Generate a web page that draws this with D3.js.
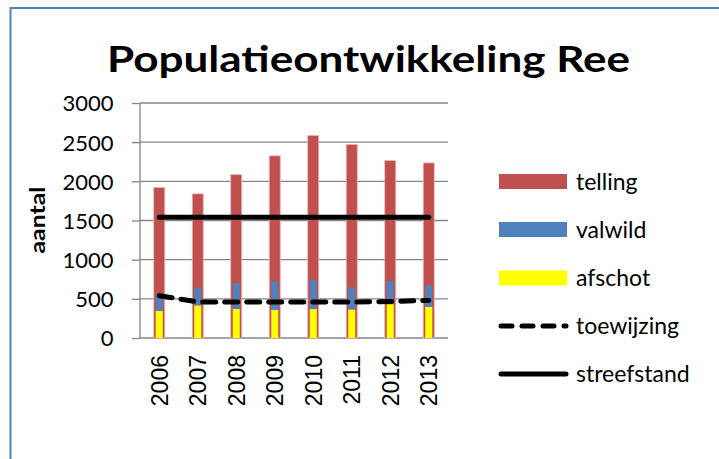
<!DOCTYPE html>
<html>
<head>
<meta charset="utf-8">
<script src="https://cdn.jsdelivr.net/npm/d3@7"></script>
<style>
  body { margin: 0; background: #fff; }
  svg { display: block; }
  .tick text { font-family: Lato, "Open Sans", sans-serif; font-size: 22px; fill: #000; }
</style>
</head>
<body>
<svg id="chart"></svg>
<script>
// data
var years = ["2006", "2007", "2008", "2009", "2010", "2011", "2012", "2013"];
var telling = [1920, 1840, 2085, 2325, 2585, 2470, 2265, 2235];
var afschot = [345, 414, 370, 358, 370, 362, 430, 396];
var valwild = [222, 229, 332, 366, 371, 285, 298, 273];
var toewijzing = [540, 460, 460, 460, 460, 460, 465, 480];
var streefstand = [1540, 1540, 1540, 1540, 1540, 1540, 1540, 1540];
var yTicks = [0, 500, 1000, 1500, 2000, 2500, 3000];
var legendNames = ["telling", "valwild", "afschot", "toewijzing", "streefstand"];

var W = 719, H = 459;
var plot = { left: 140, right: 448, top: 103, bottom: 338 };

var svg = d3.select("#chart").attr("width", W).attr("height", H);

// outer frame (runs off right and bottom edge)
svg.append("path")
  .attr("d", "M" + 10.5 + "," + (H + 5) + " L10.5,8 L" + (W + 5) + ",8")
  .attr("fill", "none")
  .attr("stroke", "#4f81bd")
  .attr("stroke-width", 2);

// title
svg.append("text")
  .attr("x", 107).attr("y", 72)
  .attr("textLength", 523)
  .attr("lengthAdjust", "spacingAndGlyphs")
  .style("font-family", "Lato, 'Open Sans', sans-serif")
  .style("font-weight", "bold")
  .style("font-size", "36px")
  .text("Populatieontwikkeling Ree");

// scales
var x = d3.scaleBand().domain(years).range([plot.left, plot.right]);
var y = d3.scaleLinear().domain([0, 3000]).range([plot.bottom, plot.top]);

// gridlines
svg.append("g").selectAll("line")
  .data(yTicks)
  .enter().append("line")
  .attr("x1", plot.left).attr("x2", plot.right)
  .attr("y1", function(d) { return y(d); })
  .attr("y2", function(d) { return y(d); })
  .attr("stroke", "#868686")
  .attr("stroke-width", 1.3);

// y axis
var yaxis = d3.axisLeft(y).tickValues(yTicks).tickFormat(d3.format("d"))
  .tickSize(8).tickSizeOuter(0).tickPadding(18.5);
var gy = svg.append("g")
  .attr("transform", "translate(" + plot.left + ",0)")
  .call(yaxis);
gy.select(".domain").remove();
gy.selectAll(".tick line").attr("stroke", "#868686").attr("stroke-width", 1.3);
gy.selectAll(".tick text").attr("dy", "0.36em");

svg.append("line")
  .attr("x1", plot.left).attr("x2", plot.left)
  .attr("y1", plot.top).attr("y2", plot.bottom)
  .attr("stroke", "#868686").attr("stroke-width", 1.3);

// y axis title
svg.append("text")
  .attr("transform", "translate(45,220) rotate(-90)")
  .attr("text-anchor", "middle")
  .attr("textLength", 67)
  .attr("lengthAdjust", "spacingAndGlyphs")
  .style("font-family", "Lato, 'Open Sans', sans-serif")
  .style("font-weight", "bold")
  .style("font-size", "21px")
  .text("aantal");

// x labels
svg.append("g").selectAll("text")
  .data(years)
  .enter().append("text")
  .attr("transform", function(d) {
    return "translate(" + (x(d) + x.bandwidth() / 2) + ",355) rotate(-90)";
  })
  .attr("text-anchor", "end")
  .attr("dy", "0.36em")
  .style("font-family", "'Liberation Sans', Arial, sans-serif")
  .style("font-size", "23px")
  .text(function(d) { return d; });

var cx = function(i) { return x(years[i]) + x.bandwidth() / 2; };

// telling bars
svg.append("g").selectAll("rect")
  .data(telling)
  .enter().append("rect")
  .attr("x", function(d, i) { return cx(i) - 5.5; })
  .attr("width", 11)
  .attr("y", function(d) { return y(d); })
  .attr("height", function(d) { return y(0) - y(d); })
  .attr("fill", "#c0504d")
  .attr("stroke", "#e8b4b2")
  .attr("stroke-width", 0.8);

// valwild on top of afschot
svg.append("g").selectAll("rect")
  .data(valwild)
  .enter().append("rect")
  .attr("x", function(d, i) { return cx(i) - 3.5; })
  .attr("width", 7)
  .attr("y", function(d, i) { return y(afschot[i] + d); })
  .attr("height", function(d) { return y(0) - y(d); })
  .attr("fill", "#4f81bd");

svg.append("g").selectAll("rect")
  .data(afschot)
  .enter().append("rect")
  .attr("x", function(d, i) { return cx(i) - 3.5; })
  .attr("width", 7)
  .attr("y", function(d) { return y(d); })
  .attr("height", function(d) { return y(0) - y(d); })
  .attr("fill", "#ffff00");

// lines
var line = d3.line()
  .x(function(d, i) { return cx(i); })
  .y(function(d) { return y(d); });

svg.append("path")
  .datum(streefstand)
  .attr("d", line)
  .attr("fill", "none")
  .attr("stroke", "#000")
  .attr("stroke-width", 5)
  .attr("stroke-linecap", "round");

svg.append("path")
  .datum(toewijzing)
  .attr("d", line)
  .attr("fill", "none")
  .attr("stroke", "#000")
  .attr("stroke-width", 5)
  .attr("stroke-dasharray", "13,9")
  .attr("stroke-linecap", "round");

// legend
var legend = svg.append("g");
var rowY = [181.5, 229.5, 278, 326, 374];
var swatchColors = ["#c0504d", "#4f81bd", "#ffff00"];
legendNames.forEach(function(name, i) {
  if (i < 3) {
    legend.append("rect")
      .attr("x", 499).attr("y", rowY[i] - 7.5)
      .attr("width", 68).attr("height", 15)
      .attr("fill", swatchColors[i]);
  } else {
    legend.append("line")
      .attr("x1", 501).attr("x2", 566)
      .attr("y1", rowY[i]).attr("y2", rowY[i])
      .attr("stroke", "#000")
      .attr("stroke-width", 5)
      .attr("stroke-linecap", "round")
      .attr("stroke-dasharray", i === 3 ? "11,10" : null);
  }
  legend.append("text")
    .attr("x", 576).attr("y", rowY[i])
    .attr("dy", "0.36em")
    .style("font-family", "Lato, 'Open Sans', sans-serif")
    .style("font-size", "23px")
    .text(name);
});
</script>
</body>
</html>
